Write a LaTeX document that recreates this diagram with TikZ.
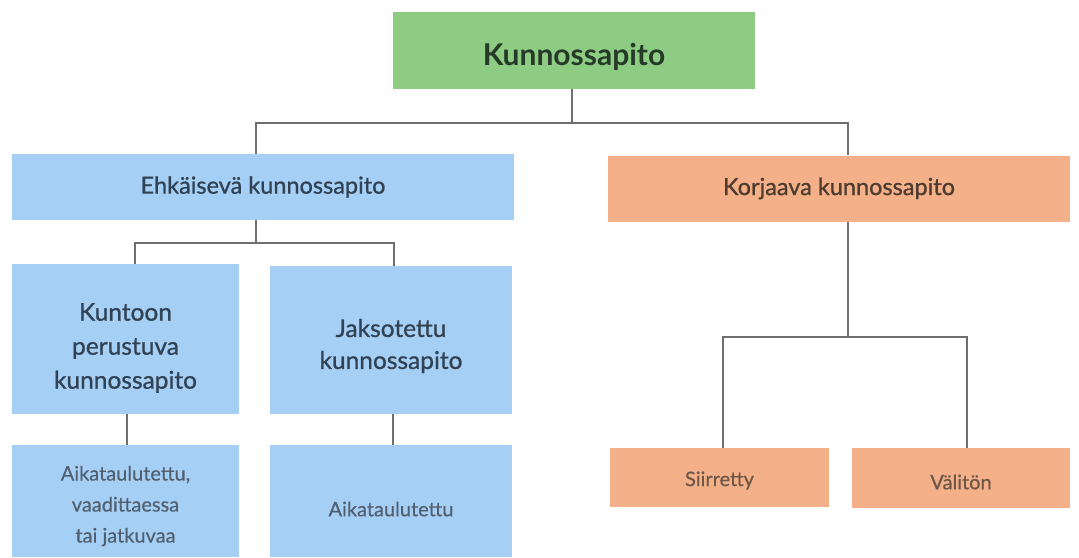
\documentclass[tikz,border=0pt]{standalone}
\usepackage{fontspec}
\setmainfont{Lato}
\newfontfamily\medfont{Lato}[FakeBold=0.9]
\newfontfamily\lightmed{Lato}[FakeBold=0.4]
\definecolor{gfill}{RGB}{142,204,132}
\definecolor{bfill}{RGB}{166,207,246}
\definecolor{ofill}{RGB}{244,177,137}
\definecolor{gtext}{RGB}{38,58,40}
\definecolor{btext}{RGB}{48,66,84}
\definecolor{btext2}{RGB}{80,96,112}
\definecolor{otext}{RGB}{78,60,46}
\definecolor{otext2}{RGB}{110,86,70}
\definecolor{lcol}{RGB}{110,110,112}
\begin{document}
\begin{tikzpicture}[x=1pt,y=-1pt,
  box/.style={rectangle,inner sep=0pt,align=center},
  gbox/.style={box,fill=gfill},
  bbox/.style={box,fill=bfill},
  obox/.style={box,fill=ofill},
  toptext/.style={box,text=gtext,font=\fontsize{30}{36}\selectfont\bfseries},
  midtext/.style={box,font=\medfont\fontsize{23.5}{28}\selectfont},
  subtext/.style={box,text=btext,font=\medfont\fontsize{24.5}{34}\selectfont},
  smalltext/.style={box,font=\lightmed\fontsize{20}{31}\selectfont},
  conn/.style={draw=lcol,line width=2pt}]
\useasboundingbox (0,0) rectangle (1079,557);
\node[gbox,minimum width=362pt,minimum height=77pt] (top) at (574,50.5) {};
\node[toptext] (toplabel) at ([yshift=-6pt]top.center) {Kunnossapito};
\node[bbox,minimum width=502pt,minimum height=66pt] (ehk) at (263,187) {};
\node[midtext,text=btext] (ehklabel) at (ehk.center) {Ehkäisevä kunnossapito};
\node[obox,minimum width=462pt,minimum height=66pt] (kor) at (839,188.5) {};
\node[midtext,text=otext] (korlabel) at (kor.center) {Korjaava kunnossapito};
\node[bbox,minimum width=227pt,minimum height=150pt] (kun) at (125.5,339) {};
\node[subtext] (kunlabel) at ([yshift=-9pt]kun.center) {Kuntoon\\perustuva\\kunnossapito};
\node[bbox,minimum width=242pt,minimum height=148pt] (jak) at (391,340) {};
\node[subtext,font=\medfont\fontsize{24.5}{32}\selectfont] (jaklabel) at ([yshift=-6pt]jak.center) {Jaksotettu\\kunnossapito};
\node[bbox,minimum width=227pt,minimum height=112pt] (aik1) at (125.5,501) {};
\node[smalltext,text=btext2] (aik1label) at ([yshift=-5pt]aik1.center) {Aikataulutettu,\\vaadittaessa\\tai jatkuvaa};
\node[bbox,minimum width=242pt,minimum height=112pt] (aik2) at (391,501) {};
\node[smalltext,text=btext2] (aik2label) at ([yshift=-8pt]aik2.center) {Aikataulutettu};
\node[obox,minimum width=219pt,minimum height=59pt] (sii) at (719.5,477.5) {};
\node[smalltext,text=otext2] (siilabel) at ([yshift=-3pt]sii.center) {Siirretty};
\node[obox,minimum width=218pt,minimum height=60pt] (val) at (961,478) {};
\node[smalltext,text=otext2] (vallabel) at ([yshift=-4pt]val.center) {Välitön};
\coordinate (j1) at (572,123);
\coordinate (j2) at (256,243);
\coordinate (j3) at (848,337);
\draw[conn] ([xshift=-2pt]top.south) -- (j1);
\draw[conn] (j1) -| ([xshift=-7pt]ehk.north);
\draw[conn] (j1) -| ([xshift=9pt]kor.north);
\draw[conn] ([xshift=-7pt]ehk.south) -- (j2);
\draw[conn] (j2) -| ([xshift=9pt]kun.north);
\draw[conn] (j2) -| ([xshift=3pt]jak.north);
\draw[conn] ([xshift=1pt]kun.south) -- ([xshift=1pt]aik1.north);
\draw[conn] ([xshift=2pt]jak.south) -- ([xshift=2pt]aik2.north);
\draw[conn] ([xshift=9pt]kor.south) -- (j3);
\draw[conn] (j3) -| ([xshift=3pt]sii.north);
\draw[conn] (j3) -| ([xshift=6pt]val.north);
\end{tikzpicture}
\end{document}
